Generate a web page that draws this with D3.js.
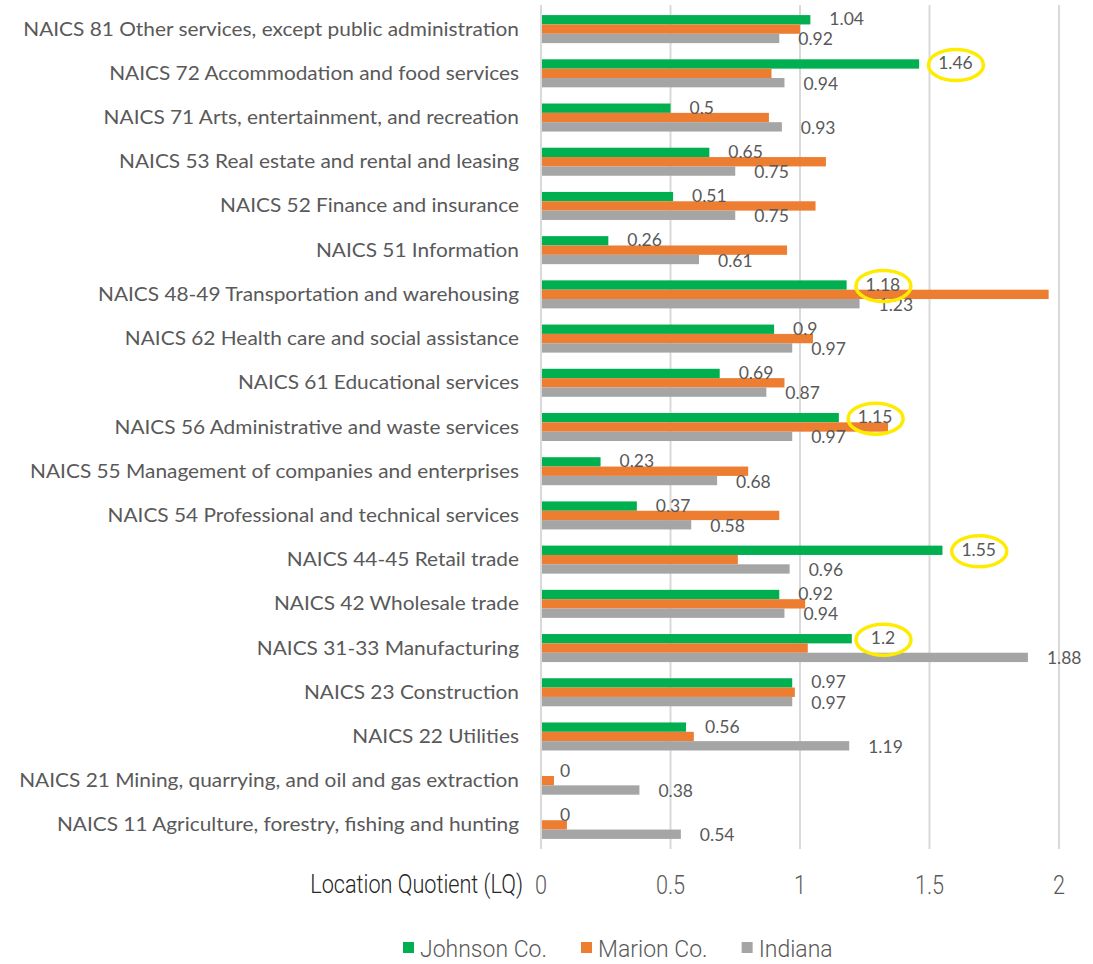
<!DOCTYPE html>
<html><head><meta charset="utf-8">
<script src="https://cdn.jsdelivr.net/npm/d3@7"></script>
<style>body{margin:0;background:#fff;}</style>
</head><body><svg id="c" width="1093" height="964"></svg>
<script>
const categories = [
  "NAICS 81 Other services, except public administration",
  "NAICS 72 Accommodation and food services",
  "NAICS 71 Arts, entertainment, and recreation",
  "NAICS 53 Real estate and rental and leasing",
  "NAICS 52 Finance and insurance",
  "NAICS 51 Information",
  "NAICS 48-49 Transportation and warehousing",
  "NAICS 62 Health care and social assistance",
  "NAICS 61 Educational services",
  "NAICS 56 Administrative and waste services",
  "NAICS 55 Management of companies and enterprises",
  "NAICS 54 Professional and technical services",
  "NAICS 44-45 Retail trade",
  "NAICS 42 Wholesale trade",
  "NAICS 31-33 Manufacturing",
  "NAICS 23 Construction",
  "NAICS 22 Utilities",
  "NAICS 21 Mining, quarrying, and oil and gas extraction",
  "NAICS 11 Agriculture, forestry, fishing and hunting"
];
const johnson = [1.04, 1.46, 0.5, 0.65, 0.51, 0.26, 1.18, 0.9, 0.69, 1.15, 0.23, 0.37, 1.55, 0.92, 1.2, 0.97, 0.56, 0, 0];
const marion  = [1.00, 0.89, 0.88, 1.10, 1.06, 0.95, 1.96, 1.05, 0.94, 1.34, 0.80, 0.92, 0.76, 1.02, 1.03, 0.98, 0.59, 0.05, 0.10];
const indiana = [0.92, 0.94, 0.93, 0.75, 0.75, 0.61, 1.23, 0.97, 0.87, 0.97, 0.68, 0.58, 0.96, 0.94, 1.88, 0.97, 1.19, 0.38, 0.54];
const seriesNames = ["Johnson Co.", "Marion Co.", "Indiana"];
const seriesColors = ["#00B050", "#ED7D31", "#A5A5A5"];
const xTicks = [0, 0.5, 1, 1.5, 2];
const xTickLabels = ["0", "0.5", "1", "1.5", "2"];
const highlighted = [
  "NAICS 72 Accommodation and food services",
  "NAICS 48-49 Transportation and warehousing",
  "NAICS 56 Administrative and waste services",
  "NAICS 44-45 Retail trade",
  "NAICS 31-33 Manufacturing"
];
const axisTitle = "Location Quotient (LQ)";

const svg = d3.select("#c");
const x = d3.scaleLinear().domain([0, 2]).range([541, 1059]);
const y = d3.scaleBand().domain(categories).range([7, 847]).paddingInner(0.366).paddingOuter(0.183);
const ys = d3.scaleBand().domain(seriesNames).range([0, y.bandwidth()]);
const values = [johnson, marion, indiana];

// gridlines
svg.append("g").selectAll("line").data(xTicks).join("line")
  .attr("x1", d => x(d)).attr("x2", d => x(d))
  .attr("y1", 5).attr("y2", 849)
  .attr("stroke", "#D9D9D9").attr("stroke-width", 2);

// bars
const groups = svg.append("g").selectAll("g").data(categories).join("g")
  .attr("transform", d => `translate(0,${y(d)})`);
groups.selectAll("rect").data((c, i) => seriesNames.map((s, k) => ({s, k, v: values[k][i]}))).join("rect")
  .attr("x", x(0) + 1)
  .attr("y", d => ys(d.s))
  .attr("width", d => Math.max(0, x(d.v) - x(0) - 1))
  .attr("height", ys.bandwidth())
  .attr("fill", d => seriesColors[d.k]);

// category labels
const catLabels = svg.append("g").selectAll("text").data(categories).join("text")
  .attr("x", 0).attr("y", 0)
  .attr("text-anchor", "end")
  .attr("font-family", "Lato, 'Open Sans', sans-serif")
  .attr("font-size", 18.5)
  .attr("fill", "#595959")
  .text(d => d);
let maxW = 0;
catLabels.each(function(){ maxW = Math.max(maxW, this.getComputedTextLength()); });
const kCat = 500 / maxW;
catLabels.attr("transform", d => `translate(519,${y(d) + y.bandwidth()/2 + 6.5}) scale(${kCat},1)`);

// data labels
const labelFont = "Lato, 'Open Sans', sans-serif";
function dataLabels(arr, sIdx, dyOff){
  return svg.append("g").selectAll("text").data(categories).join("text")
    .attr("x", (c, i) => x(arr[i]) + 19)
    .attr("y", c => y(c) + ys(seriesNames[sIdx]) + ys.bandwidth()/2 + dyOff)
    .attr("font-family", labelFont)
    .attr("font-size", 17.5)
    .attr("fill", "#595959")
    .text((c, i) => String(arr[i]));
}
const jLabels = dataLabels(johnson, 0, 5.5);
dataLabels(indiana, 2, 7);

// highlight ellipses centred on the Johnson labels
const centers = {};
jLabels.each(function(c, i){ centers[c] = x(johnson[i]) + 19 + this.getComputedTextLength() / 2; });
svg.append("g").selectAll("ellipse").data(highlighted).join("ellipse")
  .attr("cx", c => centers[c] + 0.5)
  .attr("cy", c => y(c) + ys(seriesNames[0]) + ys.bandwidth()/2 + 1)
  .attr("rx", 27.5).attr("ry", 15.5)
  .attr("fill", "none").attr("stroke", "#FFEB00").attr("stroke-width", 3.5);

// axis title and ticks (condensed)
const condFont = "Roboto, 'Liberation Sans', sans-serif";
const title = svg.append("text")
  .attr("x", 0).attr("y", 0)
  .attr("text-anchor", "end")
  .attr("font-family", condFont).attr("font-size", 25).attr("font-weight", 300)
  .attr("fill", "#262626").text(axisTitle);
const kTitle = 213 / title.node().getComputedTextLength();
title.attr("transform", `translate(523,893) scale(${kTitle},1)`);

svg.append("g").selectAll("text").data(xTicks).join("text")
  .attr("text-anchor", "middle")
  .attr("transform", d => `translate(${x(d)},894) scale(${kTitle},1)`)
  .attr("font-family", condFont).attr("font-size", 25).attr("font-weight", 300)
  .attr("fill", "#595959")
  .text((d, i) => xTickLabels[i]);

// legend
const leg = svg.append("g");
const legTexts = [];
seriesNames.forEach((s, k) => {
  const t = leg.append("text").attr("font-family", condFont).attr("font-size", 24).attr("font-weight", 300)
    .attr("fill", "#595959").text(s);
  legTexts.push(t);
});
const kLeg = 127 / legTexts[0].node().getComputedTextLength();
let lx = 403;
seriesNames.forEach((s, k) => {
  leg.append("rect").attr("x", lx).attr("y", 942).attr("width", 11).attr("height", 11).attr("fill", seriesColors[k]);
  const w = legTexts[k].node().getComputedTextLength() * kLeg;
  legTexts[k].attr("transform", `translate(${lx + 17},957) scale(${kLeg},1)`);
  lx = lx + 17 + w + 34;
});
</script>
</body></html>
